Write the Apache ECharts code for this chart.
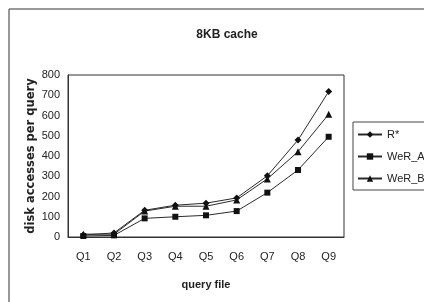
<!DOCTYPE html>
<html lang="en">
<head>
    <meta charset="UTF-8">
    <title>8KB cache</title>
    <script src="https://cdn.jsdelivr.net/npm/echarts@6/dist/echarts.min.js"></script>
</head>
<style>
    html, body { margin: 0; padding: 0; background: #fff; }
    #container { width: 424px; height: 302px; }
</style>
<body>
<div id="container"></div>
<script>
    var queries = ['Q1', 'Q2', 'Q3', 'Q4', 'Q5', 'Q6', 'Q7', 'Q8', 'Q9'];
    var rStar = [10, 20, 132, 157, 167, 193, 302, 479, 718];
    var werA = [5, 8, 92, 100, 107, 128, 219, 331, 495];
    var werB = [14, 14, 128, 152, 152, 183, 287, 421, 606];

    var chart = echarts.init(document.getElementById('container'));

    function makeSeries(name, data, symbol, size)
    {
        return {
            name: name,
            type: 'line',
            data: data,
            symbol: symbol,
            symbolSize: size,
            showAllSymbol: true,
            lineStyle: { color: '#2a2a2a', width: 1 },
            itemStyle: { color: '#111' },
            animation: false
        };
    }

    var option = {
        backgroundColor: '#fff',
        textStyle: { fontFamily: 'Arial, "Liberation Sans", sans-serif', color: '#222' },
        title: {
            text: '8KB cache',
            left: 222,
            textAlign: 'center',
            top: 24,
            textStyle: { fontSize: 12, fontWeight: 'bold', color: '#222' }
        },
        graphic: [
            {
                type: 'rect',
                shape: { x: 9, y: 9, width: 440, height: 320 },
                style: { fill: 'none', stroke: '#333', lineWidth: 1 },
                z: -1
            },
            {
                // plot box
                type: 'rect',
                shape: { x: 68, y: 75, width: 276, height: 162 },
                style: { fill: 'none', stroke: '#333', lineWidth: 1 },
                silent: true
            }
        ],
        legend: {
            orient: 'vertical',
            left: 353,
            top: 122,
            itemGap: 11,
            itemWidth: 24,
            itemHeight: 8,
            padding: [7, 40, 6, 4],
            borderColor: '#444',
            borderWidth: 1,
            textStyle: { fontSize: 11, color: '#222' },
            data: ['R*', 'WeR_A', 'WeR_B']
        },
        grid: { left: 68, top: 75, right: 80, bottom: 65 },
        xAxis: {
            type: 'category',
            data: queries,
            name: 'query file',
            nameLocation: 'middle',
            nameGap: 42,
            nameTextStyle: { fontSize: 11, fontWeight: 'bold', color: '#222' },
            axisLine: { lineStyle: { color: '#333' } },
            axisTick: { show: false },
            axisLabel: { fontSize: 11, color: '#222', margin: 14 },
            splitLine: { show: false }
        },
        yAxis: {
            type: 'value',
            min: 0,
            max: 800,
            interval: 100,
            name: 'disk accesses per query',
            nameLocation: 'middle',
            nameGap: 31,
            nameMoveOverlap: false,
            nameTextStyle: { fontSize: 11.5, fontWeight: 'bold', color: '#222', fontFamily: '"DejaVu Sans", sans-serif' },
            axisLine: { show: true, lineStyle: { color: '#333' } },
            axisTick: { show: false },
            axisLabel: { fontSize: 11, color: '#222', margin: 8 },
            splitLine: { show: false }
        },
        series: [
            makeSeries('R*', rStar, 'diamond', 7),
            makeSeries('WeR_A', werA, 'rect', 6),
            makeSeries('WeR_B', werB, 'triangle', 7)
        ]
    };

    chart.setOption(option);
</script>
</body>
</html>
